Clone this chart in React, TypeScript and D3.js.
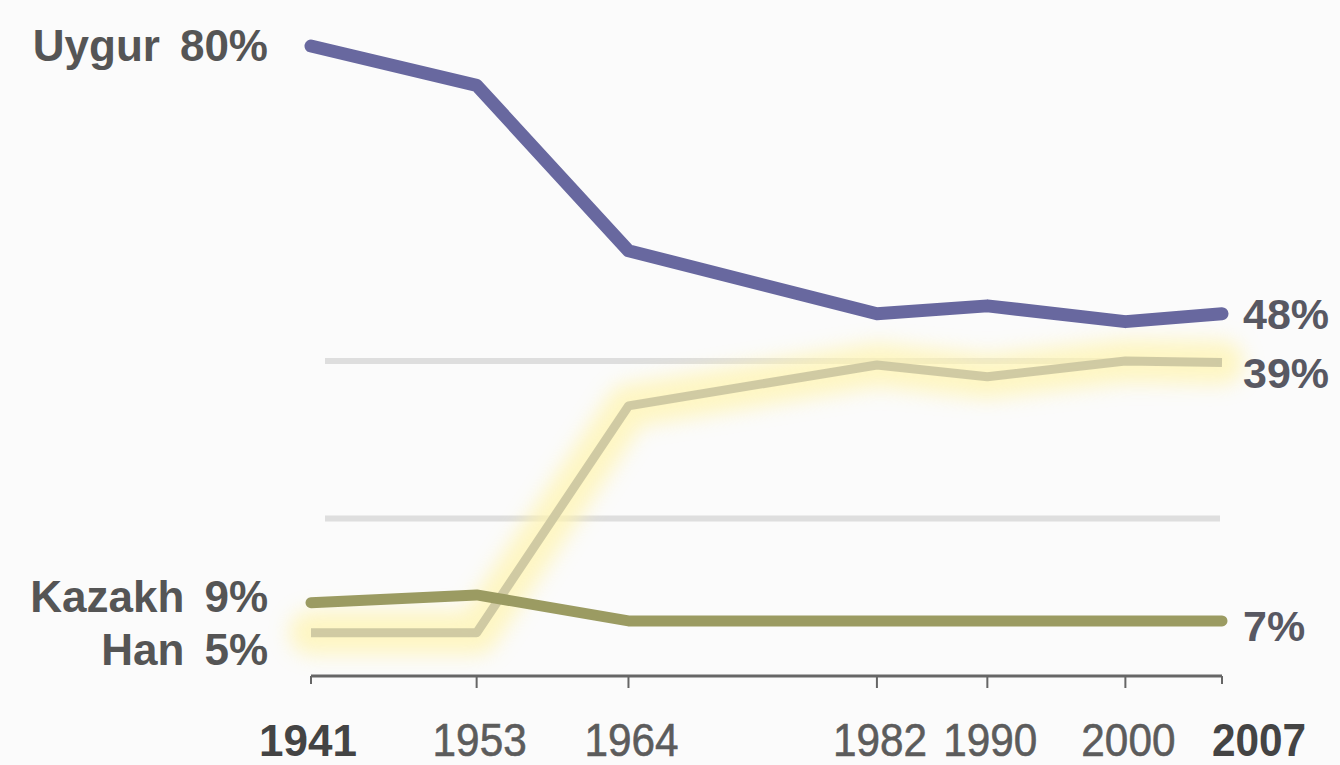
import React from 'react';
import { scaleLinear, line, curveLinear } from 'd3';

// census years
const years = [1941, 1953, 1964, 1982, 1990, 2000, 2007];

// share of population, %
const uygur = [80, 75, 54, 46, 47, 45, 46];
const han = [5.5, 5.5, 34.3, 39.5, 38, 40, 39.8];
const kazakh = [9.3, 10.3, 7, 7, 7, 7, 7];

const gridValues = [40, 20];
const boldYears = [1941, 2007];

const leftLabels = [
  { name: 'Uygur', pct: '80%', value: 80, dy: 0 },
  { name: 'Kazakh', pct: '9%', value: 9.3, dy: -6 },
  { name: 'Han', pct: '5%', value: 5.5, dy: 17 },
];
const rightLabels = [
  { text: '48%', value: 46, dy: 0 },
  { text: '39%', value: 39.8, dy: 10 },
  { text: '7%', value: 7, dy: 5 },
];

const W = 1340;
const H = 765;

const App = () => {
  const x = scaleLinear().domain([1941, 2007]).range([311, 1222]);
  const y = scaleLinear().domain([0, 80]).range([676, 46]);

  const mk = (vals: number[]) =>
    line<number>()
      .x((_, i) => x(years[i]))
      .y((d) => y(d))
      .curve(curveLinear)(vals) as string;

  const font = '"Liberation Sans", Arial, sans-serif';

  return (
    <svg width={W} height={H} style={{ position: 'absolute', left: 0, top: 0, background: '#fbfbfb' }}>
      <defs>
        <filter id="glow" x="-20%" y="-20%" width="140%" height="140%">
          <feGaussianBlur stdDeviation="10" />
        </filter>
      </defs>

      {/* grid */}
      {gridValues.map((g) => (
        <line key={g} x1={325} x2={1220} y1={y(g)} y2={y(g)} stroke="#dedede" strokeWidth={6} />
      ))}

      {/* Han: soft glow then core */}
      <path d={mk(han)} fill="none" stroke="#fff4b0" strokeWidth={44} strokeLinejoin="round" strokeLinecap="round" filter="url(#glow)" opacity={0.75} />
      <path d={mk(han)} fill="none" stroke="#cbc5a0" strokeWidth={9} strokeLinejoin="round" opacity={0.9} />

      {/* Kazakh */}
      <path d={mk(kazakh)} fill="none" stroke="#9b9b62" strokeWidth={11} strokeLinejoin="round" strokeLinecap="round" />

      {/* Uygur */}
      <path d={mk(uygur)} fill="none" stroke="#68689f" strokeWidth={13} strokeLinejoin="round" strokeLinecap="round" />

      {/* x axis */}
      <line x1={x(1941)} x2={x(2007)} y1={676} y2={676} stroke="#666" strokeWidth={3} />
      {years.map((yr, i) => (
        <line
          key={yr}
          x1={x(yr)}
          x2={x(yr)}
          y1={676}
          y2={i === 0 || i === years.length - 1 ? 684 : 688}
          stroke="#666"
          strokeWidth={2}
        />
      ))}
      {years.map((yr) => {
        const bold = boldYears.includes(yr);
        const last = yr === 2007;
        const tx = last ? x(yr) - 10 : x(yr) + (yr === 1941 ? -3 : 3);
        const sx = yr === 1941 ? 1 : 0.9;
        return (
          <g key={yr} transform={`translate(${tx},756) scale(${sx},1)`}>
            <text
              x={0}
              y={0}
              textAnchor={last ? 'start' : 'middle'}
              fontFamily={font}
              fontWeight={bold ? 'bold' : 'normal'}
              fontSize={yr === 1941 ? 44 : 47}
              fill={bold ? '#444' : '#5c5c5c'}
              stroke={bold ? 'none' : '#5c5c5c'}
              strokeWidth={0.6}
            >
              {yr}
            </text>
          </g>
        );
      })}

      {/* left labels */}
      {leftLabels.map((l) => (
        <text
          key={l.name}
          x={268}
          y={y(l.value) + l.dy + 15}
          textAnchor="end"
          fontFamily={font}
          fontWeight="bold"
          fontSize={44}
          fill="#555"
        >
          {l.name}
          <tspan dx={20}>{l.pct}</tspan>
        </text>
      ))}

      {/* right labels */}
      {rightLabels.map((l) => (
        <text
          key={l.text}
          x={1243}
          y={y(l.value) + l.dy + 15}
          fontFamily={font}
          fontWeight="bold"
          fontSize={43}
          fill="#585862"
        >
          {l.text}
        </text>
      ))}
    </svg>
  );
};

export default App;
